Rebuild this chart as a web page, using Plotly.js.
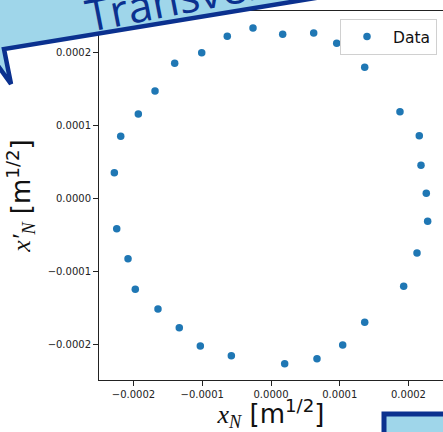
<!DOCTYPE html>
<html>
<head>
<meta charset="utf-8">
<script src="https://cdn.plot.ly/plotly-3.0.1.min.js"></script>
<style>html,body{margin:0;padding:0;background:#fff;}#chart{width:443px;height:432px;}</style>
</head>
<body>
<div id="chart"></div>
<script>
// Data (units: m^1/2)
const xN = [-0.262e-4, 0.170e-4, 0.621e-4, 0.956e-4, 1.363e-4, 1.876e-4, 2.157e-4, 2.182e-4, 2.259e-4, 2.279e-4,
            2.124e-4, 1.930e-4, 1.363e-4, 1.043e-4, 0.669e-4, 0.199e-4, -0.577e-4, -1.028e-4, -1.334e-4, -1.644e-4,
            -1.974e-4, -2.080e-4, -2.244e-4, -2.279e-4, -2.186e-4, -1.930e-4, -1.687e-4, -1.401e-4, -1.008e-4, -0.636e-4];
const xpN = [2.329e-4, 2.242e-4, 2.260e-4, 2.119e-4, 1.790e-4, 1.182e-4, 0.853e-4, 0.448e-4, 0.064e-4, -0.319e-4,
             -0.753e-4, -1.210e-4, -1.703e-4, -2.014e-4, -2.201e-4, -2.270e-4, -2.160e-4, -2.027e-4, -1.778e-4, -1.521e-4,
             -1.251e-4, -0.832e-4, -0.421e-4, 0.347e-4, 0.845e-4, 1.151e-4, 1.466e-4, 1.845e-4, 1.990e-4, 2.215e-4];
const xTicks = [-0.0002, -0.0001, 0.0000, 0.0001, 0.0002];
const yTicks = [-0.0002, -0.0001, 0.0000, 0.0001, 0.0002];
const seriesName = "Data";
const bannerText = "Transverse";

// layout geometry
const W = 443, H = 432, L = 99, R = 0, T = 11, B = 52;
const PW = W - L - R, PH = H - T - B;
const px = x => (x - L) / PW;
const py = y => (H - B - y) / PH;
const path = pts => pts.map((p, i) => (i ? 'L' : 'M') + px(p[0]).toFixed(4) + ',' + py(p[1]).toFixed(4)).join(' ') + ' Z';

const navy = '#0b318f', light = '#9fd6ea';
const it = s => `<span style="font-family:'Liberation Serif';font-style:italic">${s}</span>`;

const trace = {
  x: xN, y: xpN, type: 'scatter', mode: 'markers', name: seriesName,
  marker: {color: '#1f77b4', size: 7.5}, showlegend: true
};

const axisCommon = {
  showgrid: false, zeroline: false, showline: true, linecolor: '#222', linewidth: 1,
  ticks: 'outside', ticklen: 5, tickwidth: 1, tickcolor: '#222',
  tickfont: {family: 'DejaVu Sans', size: 10, color: '#222'},
  tickformat: '.4f', tickmode: 'array'
};

const layout = {
  width: W, height: H,
  margin: {l: L, r: R, t: T, b: B, pad: 0},
  paper_bgcolor: '#fff', plot_bgcolor: '#fff',
  xaxis: Object.assign({}, axisCommon, {
    range: [-2.502e-4, 2.502e-4], tickvals: xTicks, mirror: true,
    title: {text: it('x') + '<sub>' + it('N') + '</sub> [m<sup>1/2</sup>]',
            font: {family: 'DejaVu Sans', size: 26, color: '#111'}, standoff: 19}
  }),
  yaxis: Object.assign({}, axisCommon, {
    range: [-2.493e-4, 2.562e-4], tickvals: yTicks,
    title: {text: it('x′') + '<sub>' + it('N') + '</sub> [m<sup>1/2</sup>]',
            font: {family: 'DejaVu Sans', size: 26, color: '#111'}, standoff: 9}
  }),
  legend: {
    x: px(437), y: py(19), xanchor: 'right', yanchor: 'top',
    itemwidth: 42,
    bgcolor: 'rgba(255,255,255,0.85)', bordercolor: '#d0d0d0', borderwidth: 1,
    font: {family: 'DejaVu Sans', size: 15.5, color: '#111'}
  },
  shapes: [
    {type: 'path', xref: 'paper', yref: 'paper', layer: 'above',
     path: path([[-30, -120], [340, -120], [340, -6], [4, 49], [11, 84], [-30, 27]]),
     fillcolor: light, line: {color: navy, width: 4.5}},
    {type: 'rect', xref: 'paper', yref: 'paper', layer: 'above',
     x0: px(384), x1: px(480), y0: py(414), y1: py(470),
     fillcolor: light, line: {color: navy, width: 5}}
  ],
  annotations: [
    {xref: 'paper', yref: 'paper', x: px(196), y: py(-6), xanchor: 'center', yanchor: 'middle',
     text: bannerText, showarrow: false, textangle: -11,
     font: {family: 'Open Sans', size: 44, color: navy}}
  ]
};

Plotly.newPlot('chart', [trace], layout, {displayModeBar: false, staticPlot: true});
</script>
</body>
</html>
